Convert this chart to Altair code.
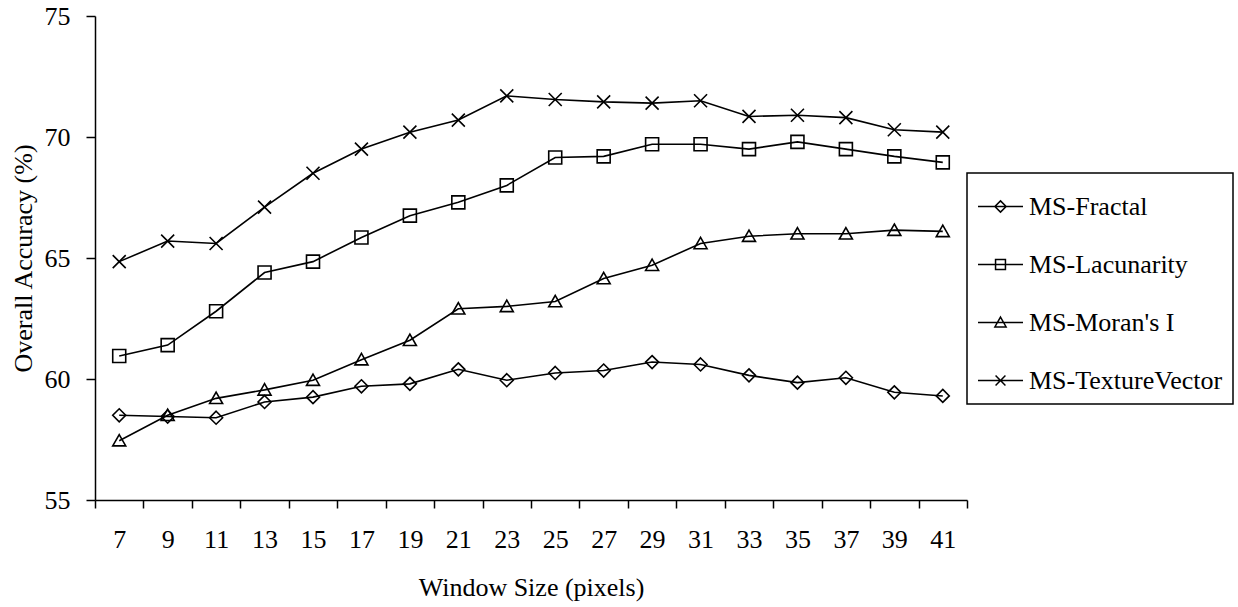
import altair as alt
import pandas as pd

# Overall accuracy (%) by moving-window size for four texture feature sets
windows = [7, 9, 11, 13, 15, 17, 19, 21, 23, 25, 27, 29, 31, 33, 35, 37, 39, 41]
fractal = [58.5, 58.45, 58.4, 59.05, 59.25, 59.7, 59.8, 60.4, 59.95, 60.25,
           60.35, 60.7, 60.6, 60.15, 59.85, 60.05, 59.45, 59.3]
lacunarity = [60.95, 61.4, 62.8, 64.4, 64.85, 65.85, 66.75, 67.3, 68.0, 69.15,
              69.2, 69.7, 69.7, 69.5, 69.8, 69.5, 69.2, 68.95]
morans = [57.45, 58.5, 59.2, 59.55, 59.95, 60.8, 61.6, 62.9, 63.0, 63.2,
          64.15, 64.7, 65.6, 65.9, 66.0, 66.0, 66.15, 66.1]
texture = [64.85, 65.7, 65.6, 67.1, 68.5, 69.5, 70.2, 70.7, 71.7, 71.55,
           71.45, 71.4, 71.5, 70.85, 70.9, 70.8, 70.3, 70.2]

series_names = ["MS-Fractal", "MS-Lacunarity", "MS-Moran's I", "MS-TextureVector"]
series_values = [fractal, lacunarity, morans, texture]

rows = []
for name, vals in zip(series_names, series_values):
    for w, v in zip(windows, vals):
        rows.append({"window": w, "accuracy": v, "series": name})
df = pd.DataFrame(rows)

# hollow marker outlines (unit box -1..1)
marker_paths = [
    "M0,-1L1,0L0,1L-1,0Z",               # diamond
    "M-1,-1L1,-1L1,1L-1,1Z",             # square
    "M0,-0.95L1,0.8L-1,0.8Z",            # triangle
    "M-1,-1L1,1M-1,1L1,-1",              # x
]
# legend keys: short line with the marker on it
key_paths = [
    "M-1,0L1,0M0,-0.25L0.25,0L0,0.25L-0.25,0Z",
    "M-1,0L1,0M-0.22,-0.22L0.22,-0.22L0.22,0.22L-0.22,0.22Z",
    "M-1,0L1,0M0,-0.24L0.25,0.2L-0.25,0.2Z",
    "M-1,0L1,0M-0.22,-0.22L0.22,0.22M-0.22,0.22L0.22,-0.22",
]

FONT = "Liberation Serif"

x_enc = alt.X(
    "window:O",
    title="Window Size (pixels)",
    scale=alt.Scale(paddingInner=0, paddingOuter=0),
    axis=alt.Axis(labelAngle=0, tickBand="extent", tickSize=8,
                  labelPadding=18, titlePadding=22),
)
y_enc = alt.Y(
    "accuracy:Q",
    title="Overall Accuracy (%)",
    scale=alt.Scale(domain=[55, 75], nice=False, zero=False),
    axis=alt.Axis(values=[55, 60, 65, 70, 75], tickSize=9, labelPadding=16,
                  titlePadding=8),
)

base = alt.Chart(df)

lines = base.mark_line(color="black", strokeWidth=1.6).encode(
    x=x_enc, y=y_enc, detail="series:N"
)

points = base.mark_point(filled=False, color="black", strokeWidth=1.6,
                         size=169, opacity=1).encode(
    x=x_enc, y=y_enc,
    shape=alt.Shape("series:N", scale=alt.Scale(domain=series_names,
                                                  range=marker_paths),
                    legend=None),
)

keys = base.mark_point(filled=False, color="black", opacity=0, size=2025).encode(
    x=x_enc, y=y_enc,
    shape=alt.Shape(
        "series:N",
        scale=alt.Scale(domain=series_names, range=key_paths),
        legend=alt.Legend(
            title=None, orient="none", legendX=872, legendY=157,
            symbolSize=2025, symbolOpacity=1, symbolStrokeColor="black",
            symbolFillColor="transparent", symbolStrokeWidth=1.5,
            labelFont=FONT, labelFontSize=26, labelColor="black",
            labelOffset=5, labelLimit=400, rowPadding=21, padding=10,
            strokeColor="black",
        ),
    ),
)

chart = (
    alt.layer(lines, points, keys)
    .resolve_scale(shape="independent")
    .properties(
        width=872, height=484,
        autosize=alt.AutoSizeParams(type="none"),
        padding={"left": 95, "top": 16, "right": 271, "bottom": 107},
        background="white",
    )
    .configure_view(stroke=None)
    .configure_axis(
        domainColor="black", domainWidth=1.5, tickColor="black", tickWidth=1.5,
        grid=False, labelFont=FONT, labelFontSize=26, labelColor="black",
        titleFont=FONT, titleFontSize=26, titleFontWeight="normal",
        titleColor="black",
    )
    .configure_legend(strokeWidth=1.5)
)

chart.save("out.html", embed_options={"renderer": "svg", "actions": False})
